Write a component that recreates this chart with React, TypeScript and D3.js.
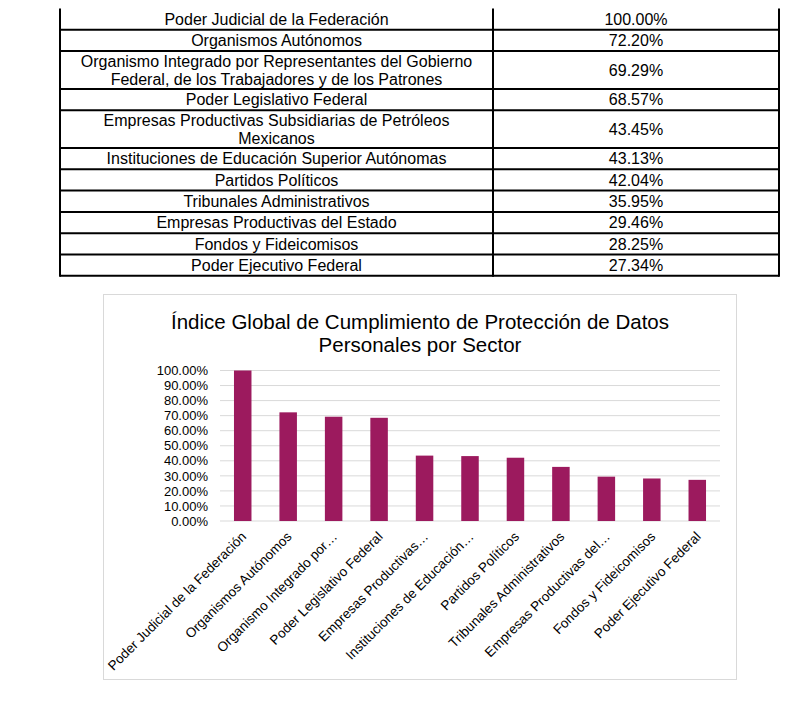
import React from "react";
import * as d3 from "d3";

const tableLabels: string[][] = [
  ["Poder Judicial de la Federación"],
  ["Organismos Autónomos"],
  ["Organismo Integrado por Representantes del Gobierno", "Federal, de los Trabajadores y de los Patrones"],
  ["Poder Legislativo Federal"],
  ["Empresas Productivas Subsidiarias de Petróleos", "Mexicanos"],
  ["Instituciones de Educación Superior Autónomas"],
  ["Partidos Políticos"],
  ["Tribunales Administrativos"],
  ["Empresas Productivas del Estado"],
  ["Fondos y Fideicomisos"],
  ["Poder Ejecutivo Federal"],
];

const chartLabels: string[] = [
  "Poder Judicial de la Federación",
  "Organismos Autónomos",
  "Organismo Integrado por…",
  "Poder Legislativo Federal",
  "Empresas Productivas…",
  "Instituciones de Educación…",
  "Partidos Políticos",
  "Tribunales Administrativos",
  "Empresas Productivas del…",
  "Fondos y Fideicomisos",
  "Poder Ejecutivo Federal",
];

const values: number[] = [100.0, 72.2, 69.29, 68.57, 43.45, 43.13, 42.04, 35.95, 29.46, 28.25, 27.34];

const yTicks: number[] = [0, 10, 20, 30, 40, 50, 60, 70, 80, 90, 100];

const titleLines: string[] = [
  "Índice Global de Cumplimiento de Protección de Datos",
  "Personales por Sector",
];

const FONT = "'Liberation Sans', Arial, sans-serif";

export default function App() {
  // table geometry
  const tX0 = 60, tXm = 493, tX1 = 779;
  const tY0 = 8.5;
  const single = 21.3, dbl = 37.8;
  const rowTops: number[] = [];
  let yy = tY0;
  tableLabels.forEach((l) => {
    rowTops.push(yy);
    yy += l.length > 1 ? dbl : single;
  });
  const tBottom = yy;

  // chart geometry
  const x = d3.scaleBand<string>().domain(chartLabels).range([220, 720]).paddingInner(0.615).paddingOuter(0.3075);
  const y = d3.scaleLinear().domain([0, 100]).range([521, 370.5]);
  const fmt = (v: number) => d3.format(".2f")(v) + "%";

  return (
    <svg width={800} height={707} style={{ position: "absolute", left: 0, top: 0, background: "#fff" }} fontFamily={FONT}>
      {/* table */}
      <g>
        {tableLabels.map((lines, i) => {
          const top = rowTops[i];
          const h = lines.length > 1 ? dbl : single;
          const lh = 18;
          const cy = top + h / 2;
          return (
            <g key={i}>
              {lines.map((t, j) => (
                <text key={j} x={(tX0 + tXm) / 2} y={cy + (j - (lines.length - 1) / 2) * lh} dy="0.36em" textAnchor="middle" fontSize={16} fill="#000">
                  {t}
                </text>
              ))}
              <text x={(tXm + tX1) / 2} y={cy} dy="0.36em" textAnchor="middle" fontSize={16} fill="#000">
                {fmt(values[i])}
              </text>
              {i > 0 && <line x1={tX0} x2={tX1} y1={top} y2={top} stroke="#000" strokeWidth={2} />}
            </g>
          );
        })}
        <line x1={tX0} x2={tX1} y1={tBottom} y2={tBottom} stroke="#000" strokeWidth={2} />
        {[tX0, tXm, tX1].map((xx, i) => (
          <line key={i} x1={xx} x2={xx} y1={tY0} y2={tBottom + 1} stroke="#000" strokeWidth={2} />
        ))}
      </g>

      {/* chart */}
      <rect x={103.5} y={294.5} width={633} height={385} fill="#fff" stroke="#D9D9D9" strokeWidth={1} />
      {titleLines.map((t, i) => (
        <text key={i} x={420} y={322 + i * 23} dy="0.36em" textAnchor="middle" fontSize={20.5} fill="#000">
          {t}
        </text>
      ))}
      {yTicks.map((t) => (
        <g key={t}>
          <line x1={220} x2={720} y1={y(t)} y2={y(t)} stroke="#D9D9D9" strokeWidth={1} />
          <text x={208} y={y(t)} dy="0.36em" textAnchor="end" fontSize={13} fill="#000">
            {fmt(t)}
          </text>
        </g>
      ))}
      {values.map((v, i) => (
        <rect key={i} x={x(chartLabels[i])!} y={y(v)} width={x.bandwidth()} height={y(0) - y(v)} fill="#9C1A5E" />
      ))}
      {chartLabels.map((l, i) => {
        const cx = x(l)! + x.bandwidth() / 2;
        return (
          <text key={i} transform={`translate(${cx + 1},${534}) rotate(-45)`} textAnchor="end" dy="0.36em" fontSize={13.5} fill="#000">
            {l}
          </text>
        );
      })}
    </svg>
  );
}
